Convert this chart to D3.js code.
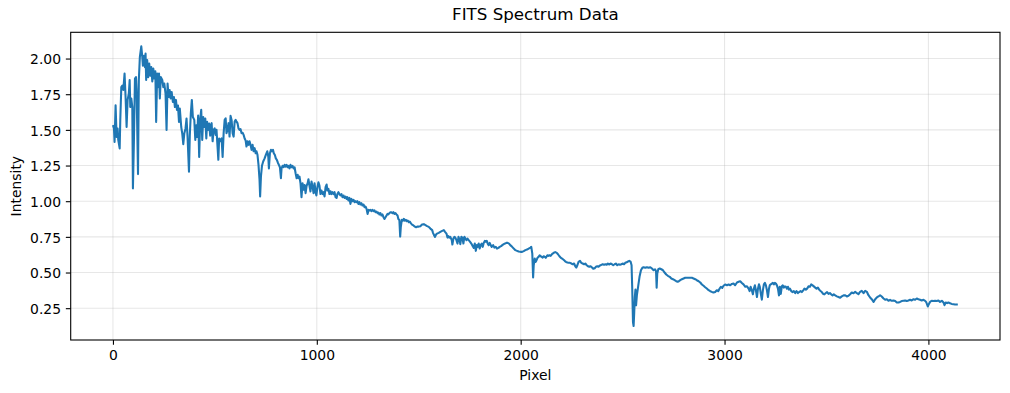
<!DOCTYPE html>
<html>
<head>
<meta charset="utf-8">
<script src="https://cdn.jsdelivr.net/npm/d3@7"></script>
<style>
  body { margin: 0; background: #fff; }
  svg { display: block; font-family: "DejaVu Sans", sans-serif; }
</style>
</head>
<body>
<script>
// Spectrum: [pixel, intensity]
const spectrum = [
  [0,1.533],[5,1.51],[8,1.416],[13,1.673],[18,1.45],[23,1.51],[26,1.43],[33,1.37],[36,1.568],[41,1.80],
  [46,1.81],[51,1.78],[57,1.895],[62,1.73],[67,1.52],[72,1.71],[78,1.755],[82,1.85],[85,1.66],[90,1.72],
  [95,1.66],[98,1.09],[103,1.43],[108,1.86],[113,1.87],[116,1.78],[123,1.19],[127,1.85],[132,2.01],[139,2.086],
  [144,2.01],[147,1.95],[152,2.02],[157,1.94],[160,2.035],[163,1.85],[168,1.99],[173,1.87],[178,1.965],[183,1.88],
  [188,1.94],[193,1.84],[198,1.93],[203,1.86],[208,1.91],[212,1.556],[217,1.895],[222,1.80],[226,1.895],[230,1.72],
  [235,1.87],[242,1.85],[247,1.80],[252,1.825],[258,1.755],[263,1.50],[268,1.825],[273,1.73],[278,1.78],[283,1.72],
  [288,1.766],[294,1.696],[299,1.73],[304,1.66],[309,1.71],[314,1.64],[319,1.67],[324,1.556],[328,1.65],[335,1.52],
  [340,1.474],[345,1.40],[350,1.474],[356,1.51],[361,1.58],[366,1.45],[373,1.206],[377,1.46],[382,1.615],[387,1.71],
  [392,1.59],[399,1.57],[404,1.43],[409,1.533],[413,1.45],[418,1.60],[423,1.31],[428,1.57],[433,1.64],[438,1.43],
  [443,1.59],[448,1.52],[453,1.58],[458,1.44],[462,1.556],[467,1.50],[472,1.544],[477,1.46],
  [479,1.523],[484,1.547],[489,1.42],[494,1.50],[499,1.51],[504,1.465],[508,1.50],[513,1.383],[517,1.29],[521,1.44],
  [526,1.42],[533,1.44],[538,1.31],[543,1.477],[548,1.57],[553,1.58],[557,1.477],[562,1.50],[567,1.547],[572,1.453],
  [577,1.598],[582,1.57],[587,1.477],[592,1.453],[597,1.558],[602,1.57],[606,1.558],[611,1.547],[616,1.51],[621,1.50],
  [626,1.505],[631,1.477],[636,1.48],[641,1.465],[646,1.44],[651,1.425],[655,1.383],[660,1.42],[665,1.395],[670,1.42],
  [675,1.395],[680,1.36],[685,1.395],[690,1.35],[695,1.372],[700,1.336],[704,1.35],[709,1.325],[714,1.255],[719,1.15],
  [722,1.033],[726,1.173],[731,1.248],[737,1.278],[744,1.30],[750,1.325],[757,1.35],[762,1.313],[765,1.23],[770,1.336],
  [775,1.36],[780,1.35],[785,1.36],[789,1.336],[794,1.325],[799,1.30],[804,1.29],[809,1.27],[814,1.255],[819,1.238],
  [824,1.161],[827,1.23],[832,1.248],[837,1.238],[842,1.255],[847,1.243],[852,1.255],[857,1.238],[861,1.248],[866,1.23],
  [871,1.255],[876,1.238],[881,1.248],[886,1.23],[891,1.238],[896,1.196],[901,1.161],[906,1.185],[910,1.161],[915,1.173],
  [920,1.126],[925,1.028],[930,1.126],[935,1.08],[940,1.114],[945,1.056],[950,1.107],[955,1.126],[959,1.154],[964,1.107],
  [969,1.068],[974,1.138],[979,1.103],[984,1.056],[989,1.126],
  [994,1.063],[998,1.04],[1003,1.098],[1008,1.133],[1013,1.11],[1018,1.05],[1023,1.075],[1028,1.05],[1033,1.063],[1038,1.033],
  [1043,1.098],[1048,1.117],[1052,1.075],[1057,1.086],[1062,1.05],[1067,1.07],[1072,1.05],[1077,1.063],[1082,1.05],[1087,1.063],
  [1092,1.028],[1097,1.023],[1101,1.05],[1106,1.063],[1111,1.05],[1116,1.04],[1121,1.05],[1126,1.028],[1131,1.04],[1136,1.023],
  [1141,1.033],[1146,1.016],[1150,1.028],[1155,1.005],[1160,1.023],[1165,0.981],[1170,1.016],[1175,1.0],[1180,1.01],[1185,0.993],
  [1190,1.0],[1195,0.993],[1199,1.0],[1204,0.981],[1209,0.993],[1214,0.977],[1219,0.986],[1224,0.97],[1229,0.977],[1234,0.958],
  [1239,0.963],[1244,0.946],[1249,0.911],[1254,0.939],[1258,0.935],[1263,0.939],[1268,0.93],[1273,0.939],[1278,0.93],[1283,0.935],
  [1288,0.923],[1293,0.927],[1298,0.916],[1302,0.92],[1307,0.907],[1312,0.916],[1317,0.9],[1322,0.907],[1327,0.888],[1332,0.876],
  [1337,0.888],[1342,0.9],[1347,0.911],[1351,0.907],[1356,0.916],[1361,0.923],[1366,0.923],[1371,0.916],[1376,0.923],[1381,0.911],
  [1386,0.916],[1391,0.907],[1396,0.9],[1400,0.876],[1405,0.869],[1409,0.752],[1412,0.818],[1417,0.869],[1422,0.864],[1427,0.876],
  [1432,0.864],[1437,0.869],[1441,0.86],[1446,0.864],[1451,0.853],[1456,0.857],[1461,0.846],[1467,0.836],[1474,0.83],[1480,0.822],
  [1487,0.818],[1494,0.822],[1500,0.822],
  [1508,0.825],[1516,0.836],[1525,0.839],[1533,0.832],[1541,0.825],[1549,0.82],[1557,0.808],[1566,0.797],[1570,0.778],[1575,0.762],
  [1580,0.75],[1585,0.766],[1590,0.773],[1598,0.778],[1606,0.785],[1615,0.792],[1623,0.797],[1629,0.785],[1636,0.773],[1641,0.745],
  [1646,0.755],[1650,0.745],[1655,0.75],[1662,0.727],[1665,0.696],[1670,0.738],[1675,0.75],[1680,0.743],[1685,0.727],[1690,0.703],
  [1695,0.75],[1700,0.731],[1704,0.699],[1709,0.75],[1714,0.743],[1719,0.703],[1724,0.75],[1729,0.738],[1734,0.727],[1739,0.738],
  [1745,0.727],[1752,0.715],[1758,0.703],[1765,0.685],[1770,0.673],[1775,0.703],[1780,0.652],[1785,0.692],[1789,0.68],[1794,0.703],
  [1799,0.668],[1804,0.692],[1809,0.703],[1814,0.68],[1819,0.708],[1824,0.722],[1829,0.715],[1834,0.722],[1838,0.703],[1843,0.692],
  [1848,0.708],[1853,0.692],[1858,0.68],[1865,0.692],[1871,0.675],[1878,0.68],[1884,0.668],[1891,0.673],[1897,0.68],[1904,0.685],
  [1910,0.692],[1917,0.699],[1923,0.703],[1930,0.708],[1936,0.708],[1943,0.703],[1949,0.692],[1958,0.68],[1966,0.668],[1974,0.657],
  [1982,0.652],[1990,0.647],[1999,0.645],[2007,0.645],[2015,0.65],[2023,0.657],[2031,0.661],[2039,0.668],[2048,0.675],
  [2052,0.68],[2057,0.633],[2061,0.465],[2064,0.551],[2069,0.598],[2074,0.575],[2079,0.591],[2083,0.605],[2088,0.61],[2093,0.621],
  [2098,0.614],[2103,0.61],[2108,0.605],[2113,0.614],[2118,0.61],[2123,0.603],[2128,0.614],[2132,0.621],[2137,0.617],[2142,0.621],
  [2147,0.617],[2152,0.626],[2157,0.633],[2164,0.64],[2170,0.643],[2177,0.638],[2183,0.628],[2190,0.614],[2196,0.605],[2203,0.598],
  [2209,0.591],[2216,0.582],[2222,0.575],[2229,0.57],[2235,0.568],[2242,0.568],[2249,0.563],[2255,0.558],[2262,0.563],[2268,0.544],
  [2273,0.535],[2278,0.551],[2284,0.575],[2291,0.582],[2297,0.568],[2304,0.563],[2311,0.558],[2317,0.563],[2324,0.551],[2330,0.544],
  [2337,0.54],[2343,0.544],[2350,0.535],[2356,0.526],[2363,0.53],[2369,0.54],[2376,0.544],[2382,0.54],[2389,0.549],[2396,0.554],
  [2402,0.558],[2409,0.554],[2415,0.558],[2422,0.554],[2428,0.563],[2435,0.556],[2441,0.563],[2448,0.558],[2454,0.551],[2461,0.558],
  [2467,0.563],[2474,0.551],[2481,0.558],[2487,0.554],[2494,0.558],[2500,0.563],[2507,0.558],[2513,0.568],[2520,0.572],[2526,0.577],
  [2533,0.582],[2539,0.577],[2544,0.551],[2547,0.40],[2551,0.15],[2554,0.125],[2557,0.22],[2560,0.33],[2563,0.38],[2566,0.27],
  [2570,0.34],[2577,0.41],[2583,0.47],[2590,0.516],[2597,0.533],[2603,0.537],[2611,0.533],[2619,0.537],[2628,0.533],[2636,0.537],
  [2644,0.528],[2652,0.516],[2659,0.523],[2664,0.509],[2667,0.393],[2670,0.493],[2675,0.523],[2682,0.528],[2690,0.523],[2698,0.516],
  [2706,0.5],[2714,0.486],[2722,0.477],[2731,0.47],[2739,0.458],[2747,0.453],[2755,0.446],[2763,0.439],[2770,0.435],[2776,0.439],
  [2783,0.446],[2791,0.453],[2799,0.458],[2807,0.463],[2815,0.463],[2824,0.463],[2832,0.463],[2840,0.463],[2848,0.458],[2856,0.453],
  [2864,0.446],[2873,0.439],[2881,0.43],[2889,0.416],[2897,0.407],[2905,0.397],[2913,0.388],[2922,0.376],[2930,0.369],[2938,0.364],
  [2946,0.36],[2954,0.364],[2962,0.376],[2969,0.369],[2976,0.388],[2982,0.40],[2989,0.393],[2995,0.407],[3003,0.416],[3012,0.411],
  [3020,0.416],[3028,0.411],[3036,0.42],[3044,0.423],[3052,0.411],[3061,0.43],[3069,0.435],[3077,0.439],
  [3085,0.427],[3093,0.417],[3102,0.40],[3110,0.403],[3118,0.387],[3123,0.37],[3128,0.40],[3134,0.375],[3139,0.347],[3144,0.387],
  [3149,0.41],[3154,0.375],[3159,0.328],[3164,0.387],[3169,0.417],[3173,0.40],[3178,0.35],[3183,0.31],[3188,0.375],[3193,0.417],
  [3198,0.427],[3203,0.41],[3208,0.375],[3213,0.328],[3218,0.387],[3222,0.41],[3227,0.417],[3232,0.422],[3237,0.427],[3242,0.417],
  [3247,0.427],[3252,0.422],[3257,0.41],[3262,0.387],[3267,0.34],[3271,0.40],[3276,0.35],[3281,0.403],[3286,0.41],[3291,0.394],
  [3296,0.403],[3301,0.40],[3306,0.387],[3311,0.40],[3316,0.38],[3321,0.387],[3327,0.37],[3334,0.363],[3340,0.37],[3347,0.356],
  [3353,0.37],[3360,0.356],[3366,0.363],[3373,0.37],[3379,0.363],[3386,0.375],[3392,0.387],[3399,0.38],[3405,0.387],[3412,0.403],
  [3419,0.40],[3425,0.417],[3432,0.41],[3438,0.403],[3445,0.394],[3451,0.387],[3458,0.394],[3464,0.38],[3471,0.37],[3477,0.363],
  [3484,0.35],[3490,0.347],[3497,0.356],[3503,0.363],[3510,0.35],[3517,0.356],[3523,0.347],[3530,0.34],[3536,0.347],[3543,0.34],
  [3551,0.333],[3559,0.328],[3567,0.323],[3575,0.333],[3584,0.34],
  [3592,0.341],[3600,0.332],[3608,0.337],[3616,0.348],[3624,0.36],[3633,0.355],[3641,0.365],[3649,0.355],[3657,0.348],[3665,0.365],
  [3673,0.372],[3682,0.355],[3690,0.372],[3698,0.365],[3706,0.341],[3714,0.325],[3722,0.313],[3731,0.294],[3739,0.313],[3747,0.325],
  [3755,0.332],[3763,0.341],[3771,0.332],[3780,0.318],[3788,0.309],[3796,0.313],[3804,0.302],[3812,0.309],[3820,0.302],[3829,0.304],
  [3837,0.30],[3845,0.29],[3853,0.29],[3861,0.294],[3869,0.30],[3878,0.302],[3886,0.304],[3894,0.30],[3902,0.304],[3910,0.309],
  [3918,0.304],[3927,0.313],[3935,0.309],[3943,0.318],[3951,0.313],[3959,0.309],[3967,0.304],[3976,0.309],[3984,0.302],[3990,0.29],
  [3997,0.262],[4002,0.278],[4008,0.294],[4016,0.302],[4025,0.30],[4033,0.302],[4041,0.30],[4049,0.304],[4057,0.294],[4066,0.302],
  [4074,0.29],[4079,0.271],[4085,0.29],[4092,0.285],[4098,0.29],[4106,0.285],[4114,0.28],[4123,0.278],[4131,0.276],[4139,0.276],
  [4144,0.278]
];

const xTicks = [0, 1000, 2000, 3000, 4000];
const yTicks = [0.25, 0.50, 0.75, 1.00, 1.25, 1.50, 1.75, 2.00];

const chartTitle = "FITS Spectrum Data";
const xLabel = "Pixel";
const yLabel = "Intensity";

// Canvas + axes box (matplotlib-like layout)
const width = 1010;
const height = 393;
const margin = { top: 32.3, right: 10, bottom: 53, left: 70.7 };
const innerW = width - margin.left - margin.right;
const innerH = height - margin.top - margin.bottom;

const lineColor = "#1f77b4";
const fontSize = 13.9;

const svg = d3.select("body").append("svg")
  .attr("width", width)
  .attr("height", height);

svg.append("rect")
  .attr("width", width)
  .attr("height", height)
  .attr("fill", "#fff");

const g = svg.append("g")
  .attr("transform", `translate(${margin.left},${margin.top})`);

// 5% margins on both axes, like matplotlib autoscale
const xExt = d3.extent(spectrum, d => d[0]);
const yExt = d3.extent(spectrum, d => d[1]);
const xPad = (xExt[1] - xExt[0]) * 0.05;
const yPad = (yExt[1] - yExt[0]) * 0.05;

const x = d3.scaleLinear()
  .domain([xExt[0] - xPad, xExt[1] + xPad])
  .range([0, innerW]);

const y = d3.scaleLinear()
  .domain([yExt[0] - yPad, yExt[1] + yPad])
  .range([innerH, 0]);

// Grid
g.append("g")
  .selectAll("line")
  .data(xTicks)
  .join("line")
  .attr("x1", d => x(d)).attr("x2", d => x(d))
  .attr("y1", 0).attr("y2", innerH)
  .attr("stroke", "#b0b0b0")
  .attr("stroke-opacity", 0.3)
  .attr("stroke-width", 1.1);

g.append("g")
  .selectAll("line")
  .data(yTicks)
  .join("line")
  .attr("x1", 0).attr("x2", innerW)
  .attr("y1", d => y(d)).attr("y2", d => y(d))
  .attr("stroke", "#b0b0b0")
  .attr("stroke-opacity", 0.3)
  .attr("stroke-width", 1.1);

// Spectrum line
const line = d3.line()
  .x(d => x(d[0]))
  .y(d => y(d[1]));

g.append("path")
  .datum(spectrum)
  .attr("d", line)
  .attr("fill", "none")
  .attr("stroke", lineColor)
  .attr("stroke-width", 2.08)
  .attr("stroke-linejoin", "round");

// Axes
const xAxis = d3.axisBottom(x)
  .tickValues(xTicks)
  .tickFormat(d3.format("d"))
  .tickSize(4.86)
  .tickSizeOuter(0)
  .tickPadding(4.86);

const yAxis = d3.axisLeft(y)
  .tickValues(yTicks)
  .tickFormat(d3.format(".2f"))
  .tickSize(4.86)
  .tickSizeOuter(0)
  .tickPadding(4.86);

const gx = g.append("g")
  .attr("transform", `translate(0,${innerH})`)
  .call(xAxis);

const gy = g.append("g").call(yAxis);

[gx, gy].forEach(ax => {
  ax.select(".domain").remove();
  ax.selectAll(".tick line").attr("stroke", "#000").attr("stroke-width", 1.1);
  ax.selectAll(".tick text")
    .attr("fill", "#000")
    .style("font-family", "'DejaVu Sans', sans-serif")
    .style("font-size", fontSize + "px");
});
gx.selectAll(".tick text").attr("dy", "0.76em");
gy.selectAll(".tick text").attr("dy", "0.38em");

// Frame
g.append("rect")
  .attr("width", innerW)
  .attr("height", innerH)
  .attr("fill", "none")
  .attr("stroke", "#000")
  .attr("stroke-width", 1.1);

// Title + labels
svg.append("text")
  .attr("x", margin.left + innerW / 2)
  .attr("y", 20.2)
  .attr("text-anchor", "middle")
  .style("font-size", "16.7px")
  .attr("fill", "#000")
  .text(chartTitle);

svg.append("text")
  .attr("x", margin.left + innerW / 2)
  .attr("y", 380)
  .attr("text-anchor", "middle")
  .style("font-size", fontSize + "px")
  .attr("fill", "#000")
  .text(xLabel);

svg.append("text")
  .attr("transform", `translate(21.2,${margin.top + innerH / 2}) rotate(-90)`)
  .attr("text-anchor", "middle")
  .style("font-size", fontSize + "px")
  .attr("fill", "#000")
  .text(yLabel);
</script>
</body>
</html>
